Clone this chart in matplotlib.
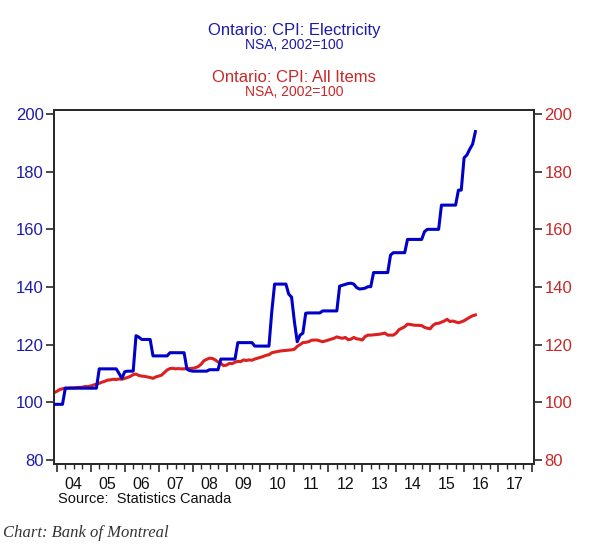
import numpy as np
import matplotlib.pyplot as plt
from matplotlib import font_manager
from matplotlib.transforms import blended_transform_factory

# monthly data, first value = Dec 2003
start_year = 2003 + 11 / 12

electricity = [
    99.3,
    99.3, 99.3, 99.3, 104.9, 104.9, 104.9, 104.9, 104.9, 104.9, 104.9, 104.9, 104.9,
    104.9, 104.9, 104.9, 111.6, 111.6, 111.6, 111.6, 111.6, 111.6, 111.6, 110.0, 108.3,
    110.6, 110.8, 110.8, 110.8, 123.1, 122.6, 121.8, 121.8, 121.8, 121.8, 116.1, 116.1,
    116.1, 116.1, 116.1, 116.1, 117.2, 117.2, 117.2, 117.2, 117.2, 117.2, 111.5, 111.0,
    110.8, 110.8, 110.8, 110.8, 110.8, 110.8, 111.3, 111.3, 111.3, 111.3, 115.0, 115.0,
    115.0, 115.0, 115.0, 115.0, 120.7, 120.7, 120.7, 120.7, 120.7, 120.7, 119.5, 119.5,
    119.5, 119.5, 119.5, 119.5, 131.4, 141.0, 141.0, 141.0, 141.0, 141.0, 137.5, 136.5,
    128.0, 121.0, 123.3, 124.0, 130.9, 131.0, 131.0, 131.0, 131.0, 131.0, 131.7, 131.7,
    131.7, 131.7, 131.7, 131.7, 140.3, 140.6, 140.9, 141.2, 141.3, 141.0, 139.8, 139.3,
    139.4, 139.6, 140.1, 140.1, 145.0, 145.0, 145.0, 145.0, 145.0, 145.0, 151.1, 151.9,
    151.9, 151.9, 151.9, 151.9, 156.5, 156.5, 156.5, 156.5, 156.5, 156.5, 159.2, 160.0,
    160.0, 160.0, 160.0, 160.0, 168.4, 168.4, 168.4, 168.4, 168.4, 168.4, 173.6, 173.6,
    184.8, 185.8, 187.8, 189.5, 193.9,
]

all_items = [
    103.3,
    103.8, 104.4, 104.7, 104.9, 104.9, 105.0, 105.0, 105.1, 105.2, 105.2, 105.5, 105.4,
    105.7, 106.0, 106.3, 106.6, 107.0, 107.3, 107.7, 107.8, 108.0, 107.9, 108.1, 108.0,
    108.3, 108.6, 109.0, 109.6, 109.8, 109.3, 109.1, 109.0, 108.8, 108.6, 108.3, 108.8,
    109.1, 109.4, 110.3, 111.2, 111.7, 111.8, 111.6, 111.7, 111.6, 111.6, 111.8, 111.7,
    111.8, 112.0, 112.4, 113.2, 114.4, 114.9, 115.3, 115.2, 114.7, 114.0, 113.5, 112.7,
    112.9, 113.5, 113.4, 113.9, 114.2, 114.1, 114.7, 114.5, 114.7, 114.6, 115.0, 115.3,
    115.6, 115.9, 116.3, 116.5, 117.2, 117.4, 117.6, 117.8, 117.9, 118.0, 118.1, 118.2,
    118.4, 119.4, 120.0, 120.7, 120.8, 121.0, 121.5, 121.6, 121.6, 121.3, 121.0, 121.3,
    121.6, 121.9, 122.2, 122.7, 122.4, 122.2, 122.5, 121.7, 121.9, 122.5, 122.0, 121.9,
    121.6, 122.8, 123.3, 123.3, 123.4, 123.5, 123.6, 123.8, 124.0, 123.3, 123.3, 123.3,
    124.0, 125.2, 125.7, 126.2, 127.1, 127.0, 126.8, 126.7, 126.7, 126.6, 126.0, 125.7,
    125.5, 126.7, 127.3, 127.4, 127.8, 128.2, 128.8, 128.0, 128.2, 127.9, 127.6, 127.9,
    128.3, 128.9, 129.5, 130.0, 130.3,
]

years = list(range(2004, 2018))
year_labels = ["04", "05", "06", "07", "08", "09", "10", "11", "12", "13", "14", "15", "16", "17"]
y_ticks = [80, 100, 120, 140, 160, 180, 200]

t = start_year + np.arange(len(electricity)) / 12

names = {f.name for f in font_manager.fontManager.ttflist}
if "Liberation Sans Narrow" in names:
    narrow = "Liberation Sans Narrow"
    tick_size = 13
    year_size = 12.5
    src_size = 12
else:
    narrow = "Liberation Sans"
    tick_size = 12
    year_size = 11.5
    src_size = 10.5
plt.rcParams["font.family"] = ["Liberation Sans", "DejaVu Sans"]

blue = "#0000c8"
red = "#dc2020"
blue_txt = "#1c1ca8"
red_txt = "#c82828"

fig = plt.figure(figsize=(6, 5.48), dpi=100)
ax = fig.add_axes([0.09, 0.1533, 0.80, 0.646])
ax2 = ax.twinx()

ax.plot(t, electricity, color=blue, lw=2.2, zorder=3)
ax2.plot(t, all_items, color=red, lw=2.2, zorder=2)
ax.set_zorder(ax2.get_zorder() + 1)
ax.patch.set_visible(False)

for a in (ax, ax2):
    a.set_ylim(78.6, 201.4)
    a.set_xlim(start_year, 2018.06)
    for s in a.spines.values():
        s.set_color("#2a2a2a")
        s.set_linewidth(1.4)

ax.set_yticks(y_ticks)
ax2.set_yticks(y_ticks)
ax.tick_params(axis="y", direction="out", length=5.5, width=1.2, color="#2a2a2a",
               labelcolor=blue_txt, pad=2)
ax2.tick_params(axis="y", direction="out", length=5.5, width=1.2, color="#2a2a2a",
                labelcolor=red_txt, pad=2)
for lab in ax.get_yticklabels() + ax2.get_yticklabels():
    lab.set_fontfamily(narrow)
    lab.set_fontsize(tick_size)

# x axis: year ticks + quarterly minor ticks, labels in the middle of each year
ax.set_xticks(years + [2018])
ax.set_xticks([y + q / 4 for y in years for q in (1, 2, 3)], minor=True)
ax.tick_params(axis="x", which="major", direction="out", length=6, width=1.2,
               color="#2a2a2a", labelbottom=False)
ax.tick_params(axis="x", which="minor", direction="out", length=3.3, width=1.0,
               color="#2a2a2a", labelbottom=False)
ax2.tick_params(axis="x", which="both", length=0)

trans = blended_transform_factory(ax.transData, ax.transAxes)
for y, lab in zip(years, year_labels):
    ax.text(y + 0.5, -0.059, lab, transform=trans, ha="center", va="center",
            fontsize=year_size, family=narrow, color="#111111")

# titles
fig.text(0.49, 0.9443, "Ontario: CPI: Electricity", ha="center", va="center",
         fontsize=12, color=blue_txt)
fig.text(0.49, 0.9184, "NSA, 2002=100", ha="center", va="center",
         fontsize=10, color=blue_txt)
fig.text(0.49, 0.8577, "Ontario: CPI: All Items", ha="center", va="center",
         fontsize=12, color=red_txt)
fig.text(0.49, 0.8321, "NSA, 2002=100", ha="center", va="center",
         fontsize=10, color=red_txt)

fig.text(0.097, 0.0903, "Source:  Statistics Canada", ha="left", va="center",
         fontsize=src_size, family=narrow, color="#111111")
fig.text(0.005, 0.0274, "Chart: Bank of Montreal", ha="left", va="center",
         fontsize=12, family="Liberation Serif", style="italic", color="#333333")

fig.savefig("out.png", dpi=100)
